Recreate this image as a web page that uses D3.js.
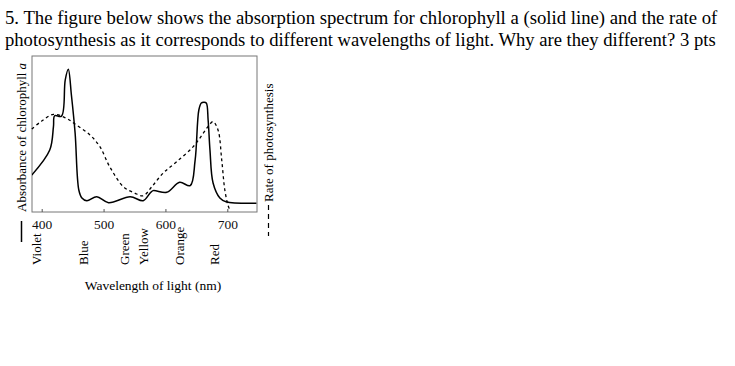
<!DOCTYPE html>
<html><head><meta charset="utf-8">
<script src="https://cdn.jsdelivr.net/npm/d3@7"></script>
<style>body{margin:0;background:#fff}svg{display:block}</style>
</head><body>
<svg id="c" width="735" height="366"></svg>
<script>
const titleLines = [
  "5. The figure below shows the absorption spectrum for chlorophyll a (solid line) and the rate of",
  "photosynthesis as it corresponds to different wavelengths of light. Why are they different? 3 pts"
];
const xTicks = [400, 500, 600, 700];
const colorNames = ["Violet", "Blue", "Green", "Yellow", "Orange", "Red"];
const colorWavelengths = [392, 468, 534, 565, 623, 680];
const absorbWl = [384, 413, 419, 421, 432, 438, 443, 448, 454, 460, 465, 473, 489, 508, 543, 564, 575, 580, 602, 623, 640, 648, 654, 658, 662, 666, 669, 672, 677, 688, 698, 747];
const absorbVal = [23.7, 39.7, 54.7, 61.7, 61.5, 84.6, 91.5, 75, 50.6, 14.1, 9, 7.2, 9.8, 6, 9.8, 7.2, 12, 13.7, 12.6, 19, 16.9, 33.3, 65.4, 69.9, 70.3, 69.9, 59, 39.7, 18.6, 9, 6.6, 5.6];
const rateWl = [384, 400, 419, 440, 456, 478, 494, 510, 532, 550, 564, 578, 596, 618, 645, 661, 672, 677, 685, 691, 696, 701, 704];
const rateVal = [53.2, 58.3, 62.6, 60, 55.8, 49.4, 41.9, 29, 16.2, 12.2, 10.4, 16.2, 24.8, 32.2, 41.9, 50.4, 56.4, 57.9, 52.6, 33.3, 14.1, 4.5, 1.3];

(function () {
const svg = d3.select("#c");
const serif = "Liberation Serif, Times New Roman, DejaVu Serif, serif";

const titleWidths = [713, 711];
svg.selectAll("text.title").data(titleLines).join("text")
  .attr("class", "title")
  .attr("x", 5).attr("y", (d, i) => 24 + i * 22)
  .attr("font-family", serif).attr("font-size", 17).attr("fill", "#000")
  .text(d => d)
  .each(function (d, i) {
    const w = this.getComputedTextLength();
    if (w > 0) d3.select(this).attr("font-size", 17 * titleWidths[i] / w);
  });

const pL = 32, pR = 257, pT = 56, pB = 212;
const x = d3.scaleLinear().domain([400, 700]).range([41.7, 227.3]);
const y = d3.scaleLinear().domain([0, 100]).range([pB, pT]);

svg.append("rect").attr("x", pL).attr("y", pT).attr("width", pR - pL).attr("height", pB - pT)
  .attr("fill", "none").attr("stroke", "#777").attr("stroke-width", 1);

const axis = d3.axisBottom(x).tickValues(xTicks).tickSizeInner(-3).tickSizeOuter(0).tickPadding(7);
const ag = svg.append("g").attr("transform", `translate(0,${pB})`).call(axis);
ag.attr("font-family", serif).attr("font-size", 13.5);
ag.select(".domain").remove();
ag.selectAll(".tick line").attr("stroke", "#555");
ag.selectAll(".tick text").attr("fill", "#111");

svg.append("clipPath").attr("id", "pc").append("rect")
  .attr("x", pL).attr("y", pT).attr("width", pR - pL).attr("height", pB - pT + 2);

const line = d3.line().x(d => x(d[0])).y(d => y(d[1])).curve(d3.curveCatmullRom.alpha(0.5));
const absorb = absorbWl.map((w, i) => [w, absorbVal[i]]);
const rate = rateWl.map((w, i) => [w, rateVal[i]]);

svg.append("path").attr("d", line(absorb)).attr("fill", "none").attr("stroke", "#000")
  .attr("stroke-width", 1.5).attr("clip-path", "url(#pc)");
svg.append("path").attr("d", line(rate)).attr("fill", "none").attr("stroke", "#000")
  .attr("stroke-width", 1.3).attr("stroke-dasharray", "3,3");

svg.selectAll("text.cn").data(colorNames).join("text")
  .attr("class", "cn")
  .attr("transform", (d, i) => `translate(${x(colorWavelengths[i]) + 4.5},265) rotate(-90)`)
  .attr("font-family", serif).attr("font-size", 13).attr("fill", "#000")
  .text(d => d);

svg.append("text").attr("x", 153).attr("y", 290).attr("text-anchor", "middle")
  .attr("font-family", serif).attr("font-size", 13.5).attr("fill", "#000")
  .text("Wavelength of light (nm)");

svg.append("line").attr("x1", 21.5).attr("x2", 21.5).attr("y1", 221).attr("y2", 242)
  .attr("stroke", "#000").attr("stroke-width", 1.5);
const yl = svg.append("text").attr("transform", "translate(26,212) rotate(-90)")
  .attr("font-family", serif).attr("font-size", 13).attr("fill", "#000");
yl.append("tspan").text("Absorbance of chlorophyll ");
yl.append("tspan").attr("font-style", "italic").text("a");

svg.append("line").attr("x1", 268.5).attr("x2", 268.5).attr("y1", 205).attr("y2", 236)
  .attr("stroke", "#000").attr("stroke-width", 1.2).attr("stroke-dasharray", "5,4");
svg.append("text").attr("transform", "translate(273,202) rotate(-90)")
  .attr("font-family", serif).attr("font-size", 13).attr("fill", "#000")
  .text("Rate of photosynthesis");
})();
</script>
</body></html>
